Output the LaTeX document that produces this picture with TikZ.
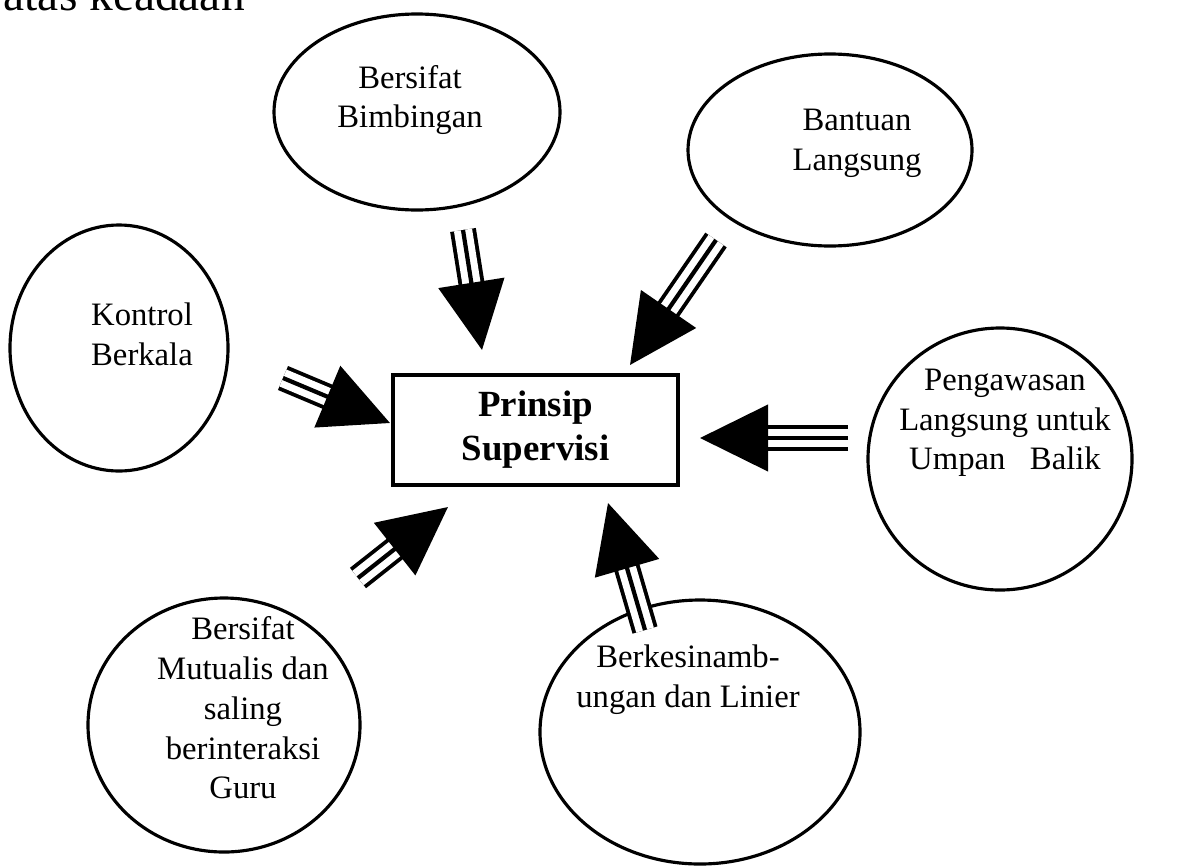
\documentclass[tikz,border=0pt]{standalone}
\usepackage{fontspec}
\setmainfont{Liberation Serif}
\usepackage{tikz}
\usetikzlibrary{shapes.geometric,arrows.meta,calc}
\tikzset{
  bubble/.style={draw=black, ellipse, line width=0.9pt, inner sep=0pt},
  core/.style={draw=black, line width=1.2pt, minimum width=2.85cm, minimum height=1.1cm,
    align=center, font=\fontsize{10.5}{12.5}\selectfont\bfseries},
  lab/.style={align=center, inner sep=0pt, font=\fontsize{9.3}{11.3}\selectfont},
  feed/.style={line width=1.2pt, -{Triangle[length=6.8mm, width=6.6mm]},
    preaction={draw=black, arrows=-, line width=7.4pt, shorten >=5mm},
    preaction={draw=white, arrows=-, line width=5.2pt, shorten >=5mm}},
}
\begin{document}
\begin{tikzpicture}
  \useasboundingbox (0,0) rectangle (11.96,8.65);
  \clip (0,0) rectangle (11.96,8.65);

  % page text cut off at the top
  \node[anchor=base west, inner sep=0pt, font=\fontsize{13.5}{16}\selectfont] (cap) at (0.03,8.55) {atas keadaan};

  \node[core] (ps) at (5.355,4.35) {Prinsip\\Supervisi};

  % the six bubbles
  \node[bubble, minimum width=2.86cm, minimum height=1.96cm] (bimb) at (4.17,7.53) {};
  \node[bubble, minimum width=2.84cm, minimum height=1.92cm] (bant) at (8.30,7.15) {};
  \node[bubble, minimum width=2.18cm, minimum height=2.46cm] (kont) at (1.19,5.17) {};
  \node[bubble, minimum width=2.64cm, minimum height=2.62cm] (peng) at (10.00,4.06) {};
  \node[bubble, minimum width=2.72cm, minimum height=2.54cm] (mutu) at (2.24,1.40) {};
  \node[bubble, minimum width=3.20cm, minimum height=2.64cm] (berk) at (7.00,1.33) {};

  \node[lab] (bimbt) at ($(bimb)+(-0.07,0.12)$) {Bersifat\\Bimbingan};
  \node[lab] (bantt) at ($(bant)+(0.27,0.07)$) {Bantuan\\Langsung};
  \node[lab] (kontt) at ($(kont)+(0.23,0.14)$) {Kontrol\\Berkala};
  \node[lab] (pengt) at ($(peng)+(0.05,0.36)$) {Pengawasan\\Langsung untuk\\Umpan~~~Balik};
  \node[lab] (mutut) at ($(mutu)+(0.19,0.17)$) {Bersifat\\Mutualis dan\\saling\\berinteraksi\\Guru};
  \node[lab] (berkt) at ($(berk)+(-0.12,0.52)$) {Berkesinamb-\\ungan dan Linier};

  % arrow ends
  \coordinate (a1s) at (4.63,6.35);  \coordinate (a1t) at (4.82,5.15);
  \coordinate (a2s) at (7.16,6.25);  \coordinate (a2t) at (6.30,5.00);
  \coordinate (a3s) at (2.83,4.87);  \coordinate (a3t) at (3.90,4.42);
  \coordinate (a4s) at (8.48,4.27);  \coordinate (a4t) at (7.00,4.27);
  \coordinate (a5s) at (3.58,2.87);  \coordinate (a5t) at (4.48,3.58);
  \coordinate (a6s) at (6.45,2.35);  \coordinate (a6t) at (6.08,3.62);

  \draw[feed] (a1s) -- (a1t);
  \draw[feed] (a2s) -- (a2t);
  \draw[feed] (a3s) -- (a3t);
  \draw[feed] (a4s) -- (a4t);
  \draw[feed] (a5s) -- (a5t);
  \draw[feed] (a6s) -- (a6t);
\end{tikzpicture}
\end{document}
